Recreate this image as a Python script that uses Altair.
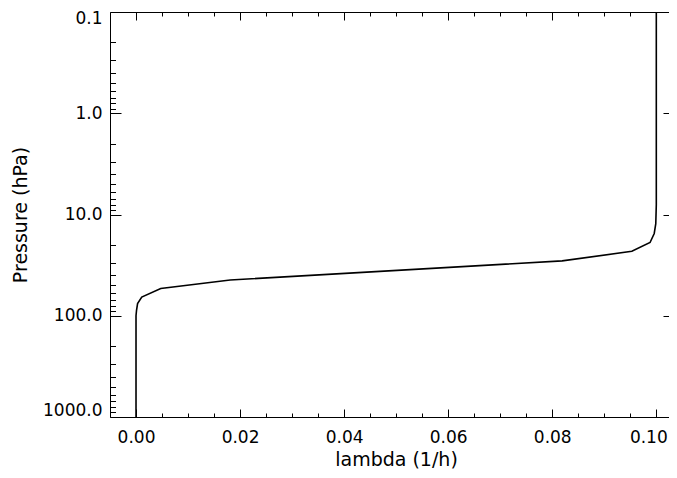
import altair as alt
import pandas as pd

# profile: relaxation rate lambda (1/h) vs pressure (hPa)
lam = [0.1, 0.1, 0.0999, 0.0996, 0.0988, 0.0953, 0.0819, 0.0181, 0.00475, 0.0011, 0.0003, 0.0001, 0.0, 0.0]
pres = [0.1, 8.0, 12.3, 15.4, 18.9, 23.1, 28.7, 44.4, 53.9, 65.3, 75.9, 88.3, 100.0, 1000.0]

x_major = [0.0, 0.02, 0.04, 0.06, 0.08, 0.10]
x_minor = [0.005, 0.01, 0.015, 0.025, 0.03, 0.035, 0.045, 0.05, 0.055,
           0.065, 0.07, 0.075, 0.085, 0.09, 0.095]
y_major = [0.1, 1.0, 10.0, 100.0, 1000.0]
y_minor = [0.2, 0.3, 0.4, 0.5, 0.6, 0.7, 0.8, 0.9,
           2, 3, 4, 5, 6, 7, 8, 9,
           20, 30, 40, 50, 60, 70, 80, 90,
           200, 300, 400, 500, 600, 700, 800, 900]

df = pd.DataFrame({"lambda": lam, "pressure": pres, "idx": list(range(len(lam)))})

# the frame of the original runs past the right edge of the picture
xs = alt.Scale(domain=[-0.005, 0.10244], nice=False, zero=False)
ys = alt.Scale(type="log", domain=[0.1, 1000], reverse=True, nice=False)


def layer(xaxis, yaxis, visible=False):
    m = alt.Chart(df).mark_line(color="black", strokeWidth=1.6, opacity=1 if visible else 0)
    return m.encode(
        x=alt.X("lambda:Q", scale=xs, axis=xaxis),
        y=alt.Y("pressure:Q", scale=ys, axis=yaxis),
        order=alt.Order("idx:Q"),
    )


def tick_axis(orient, values, size, off=None, **kw):
    return alt.Axis(orient=orient, values=values, offset=-size if off is None else off,
                    tickSize=size, domain=False, grid=False, **kw)


main = layer(
    tick_axis("bottom", x_major, 8, format=".2f", labelPadding=12, labelFlush=False,
              labelOffset={"expr": "datum.value > 0.099 ? -8 : 0"},
              title="lambda (1/h)", titlePadding=5, titleX=286),
    tick_axis("left", y_major, 11, format=".1f", labelPadding=8, labelFlush=True,
              labelFlushOffset=2, title="Pressure (hPa)", titlePadding=12),
    visible=True,
)
minor1 = layer(
    tick_axis("bottom", x_minor, 4, labels=False, title=None),
    tick_axis("left", y_minor, 5.5, labels=False, title=None),
)
major2 = layer(
    tick_axis("top", x_major, 8, labels=False, title=None),
    tick_axis("right", y_major, 6, labels=False, title=None),
)
minor2 = layer(
    tick_axis("top", x_minor, 4, labels=False, title=None),
    None,
)
frame1 = layer(
    alt.Axis(orient="bottom", domain=True, ticks=False, labels=False, grid=False, title=None),
    alt.Axis(orient="left", domain=True, ticks=False, labels=False, grid=False, title=None),
)
frame2 = layer(
    alt.Axis(orient="top", domain=True, ticks=False, labels=False, grid=False, title=None),
    None,
)

chart = (
    alt.layer(frame1, frame2, minor1, major2, minor2, main)
    .resolve_axis(x="independent", y="independent")
    .properties(
        width=559,
        height=405,
        autosize=alt.AutoSizeParams(type="none"),
        padding={"left": 102, "top": 4, "right": 0, "bottom": 53},
    )
    .configure_axis(
        labelFont="DejaVu Sans", labelFontSize=17, labelColor="black",
        titleFont="DejaVu Sans", titleFontSize=19, titleFontWeight="normal",
        titleColor="black", tickColor="black", domainColor="black",
        tickWidth=1, domainWidth=1,
    )
    .configure_view(stroke=None)
)

chart.save("out.html", embed_options={"renderer": "svg", "actions": False})
